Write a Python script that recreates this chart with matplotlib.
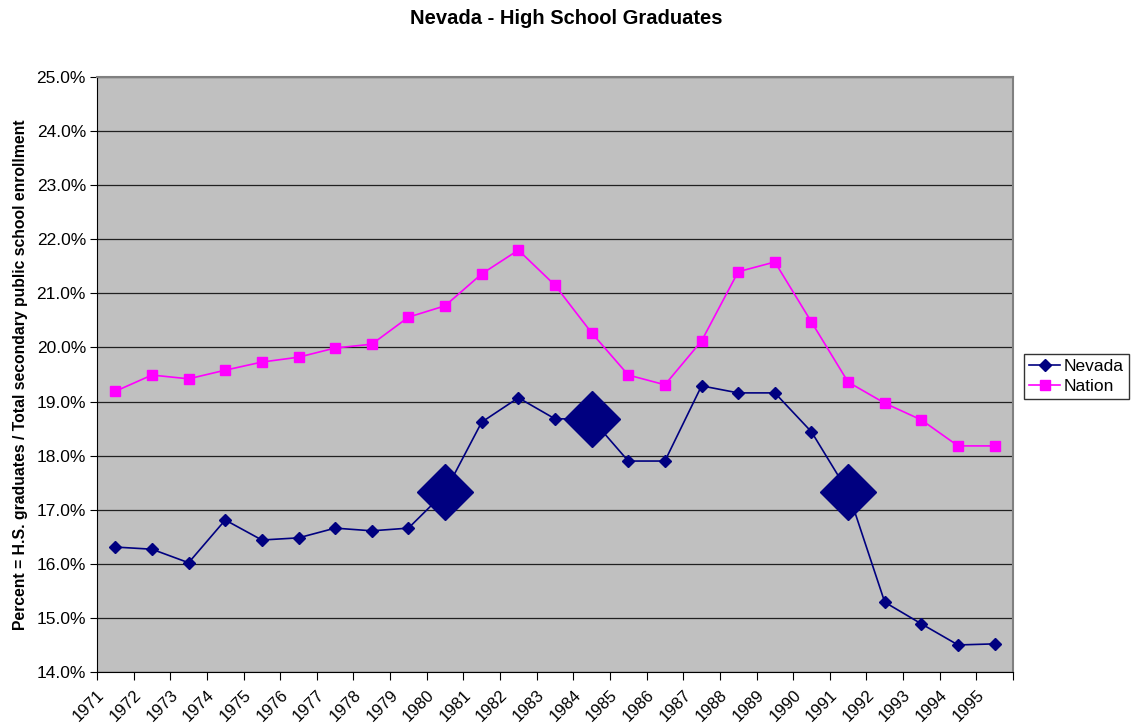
import matplotlib.pyplot as plt
from matplotlib.ticker import FuncFormatter

plt.rcParams['font.family'] = ['Liberation Sans', 'DejaVu Sans']

years = list(range(1971, 1996))
nevada = [16.31, 16.27, 16.02, 16.81, 16.44, 16.48, 16.66, 16.61, 16.66, 17.33,
          18.62, 19.07, 18.68, 18.68, 17.90, 17.90, 19.29, 19.16, 19.16, 18.44,
          17.33, 15.29, 14.89, 14.50, 14.52]
nation = [19.19, 19.49, 19.42, 19.58, 19.73, 19.82, 19.99, 20.06, 20.56, 20.77,
          21.36, 21.80, 21.15, 20.27, 19.49, 19.31, 20.12, 21.40, 21.58, 20.47,
          19.36, 18.97, 18.66, 18.18, 18.18]
highlight_years = [1980, 1984, 1991]

navy = "#000080"
magenta = "#FF00FF"

fig = plt.figure(figsize=(11.33, 7.23), dpi=100)
ax = fig.add_axes([97 / 1133, 1 - 672 / 723, 916 / 1133, 595 / 723])
ax.set_facecolor("#C0C0C0")

x = [i + 0.5 for i in range(len(years))]
ax.plot(x, nevada, color=navy, lw=1.2, marker="D", ms=6, label="Nevada", zorder=3)
ax.plot(x, nation, color=magenta, lw=1.2, marker="s", ms=6.5, label="Nation", zorder=3)

# enlarged markers
hx = [x[years.index(y)] for y in highlight_years]
hy = [nevada[years.index(y)] for y in highlight_years]
ax.plot(hx, hy, ls="none", marker="D", ms=29, color=navy, zorder=4)

ax.set_xlim(0, len(years))
ax.set_ylim(14, 25)
ax.set_yticks(range(14, 26))
ax.yaxis.set_major_formatter(FuncFormatter(lambda v, p: f"{v:.1f}%"))
ax.grid(axis="y", color="#202020", lw=0.9)
ax.set_axisbelow(True)

ax.set_xticks(range(len(years) + 1))
ax.set_xticklabels([str(y) for y in years] + [""], rotation=45, ha="right",
                   rotation_mode="anchor")
ax.tick_params(axis="x", direction="out", length=6, labelsize=12, pad=5)
ax.tick_params(axis="y", direction="out", length=5, labelsize=12.5, pad=3)

for s in ["top", "right"]:
    ax.spines[s].set_color("#808080")
    ax.spines[s].set_linewidth(1.5)
for s in ["left", "bottom"]:
    ax.spines[s].set_color("black")

ax.set_ylabel("Percent = H.S. graduates / Total secondary public school enrollment",
              fontsize=11.3, fontweight="bold", labelpad=6)
fig.text(0.5, 1 - 18 / 723, "Nevada - High School Graduates", ha="center", va="center",
         fontsize=14.5, fontweight="bold")

leg = ax.legend(loc="center left", bbox_to_anchor=(1.012, 0.497), frameon=True,
                fancybox=False, edgecolor="black", fontsize=12.5, borderpad=0.3,
                handlelength=1.8, handletextpad=0.2, labelspacing=0.25,
                borderaxespad=0)
leg.get_frame().set_linewidth(1)

fig.savefig("out.png", dpi=100)
